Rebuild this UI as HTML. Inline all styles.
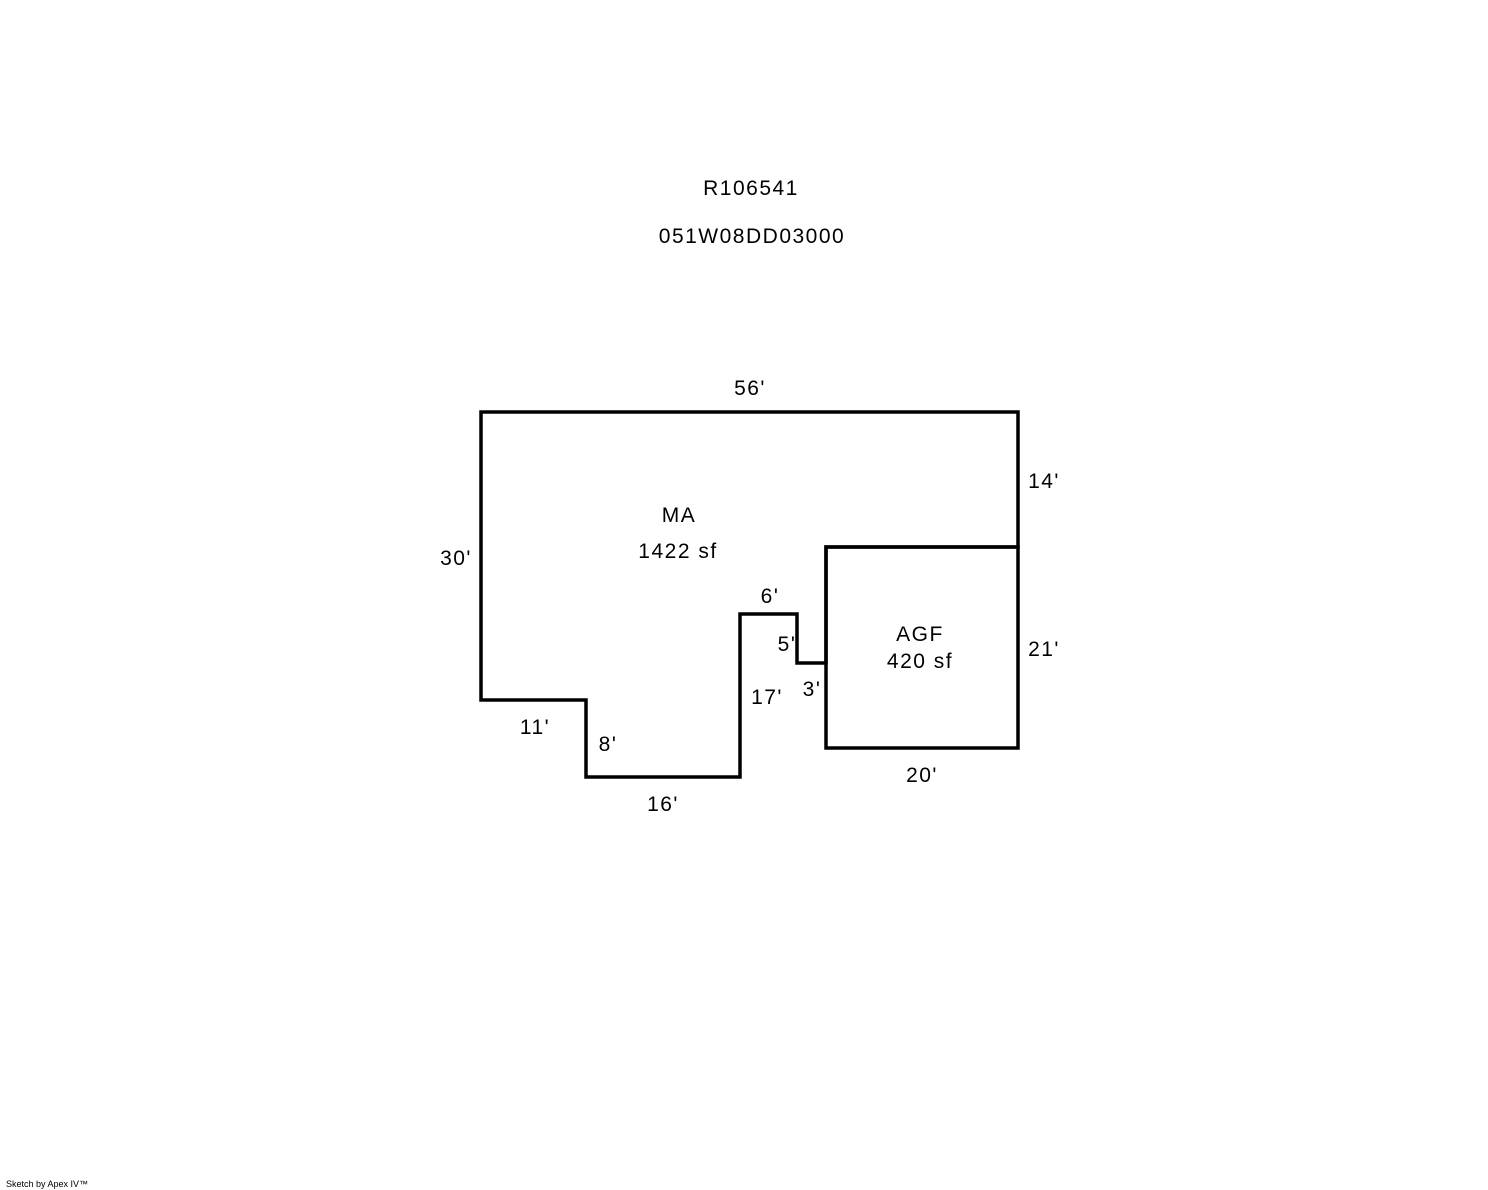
<!DOCTYPE html>
<html><head><style>html,body{margin:0;padding:0;background:#fff}svg{display:block}</style></head>
<body>
<svg width="1488" height="1190" viewBox="0 0 1488 1190" font-family="Liberation Sans, Arial, sans-serif" font-size="21" letter-spacing="1.5" fill="#000">
<g fill="none" stroke="#000" stroke-width="3.5" stroke-linejoin="miter">
<polygon points="481,412 1018,412 1018,547 826,547 826,663 797,663 797,614 740,614 740,777 586,777 586,700 481,700"/>
<rect x="826" y="547" width="192" height="201"/>
</g>
<g text-anchor="middle">
<text x="751" y="195">R106541</text>
<text x="752" y="243">051W08DD03000</text>
<text x="750" y="395">56'</text>
<text x="1044" y="488">14'</text>
<text x="456" y="565">30'</text>
<text x="679" y="522">MA</text>
<text x="678" y="558">1422 sf</text>
<text x="770" y="603">6'</text>
<text x="787" y="651">5'</text>
<text x="812" y="696">3'</text>
<text x="767" y="704">17'</text>
<text x="920" y="641">AGF</text>
<text x="920" y="668">420 sf</text>
<text x="1044" y="656">21'</text>
<text x="535" y="734">11'</text>
<text x="608" y="751">8'</text>
<text x="663" y="811">16'</text>
<text x="922" y="782">20'</text>
</g>
<text x="6" y="1187" font-size="9" letter-spacing="0">Sketch by Apex IV™</text>
</svg>
</body></html>
